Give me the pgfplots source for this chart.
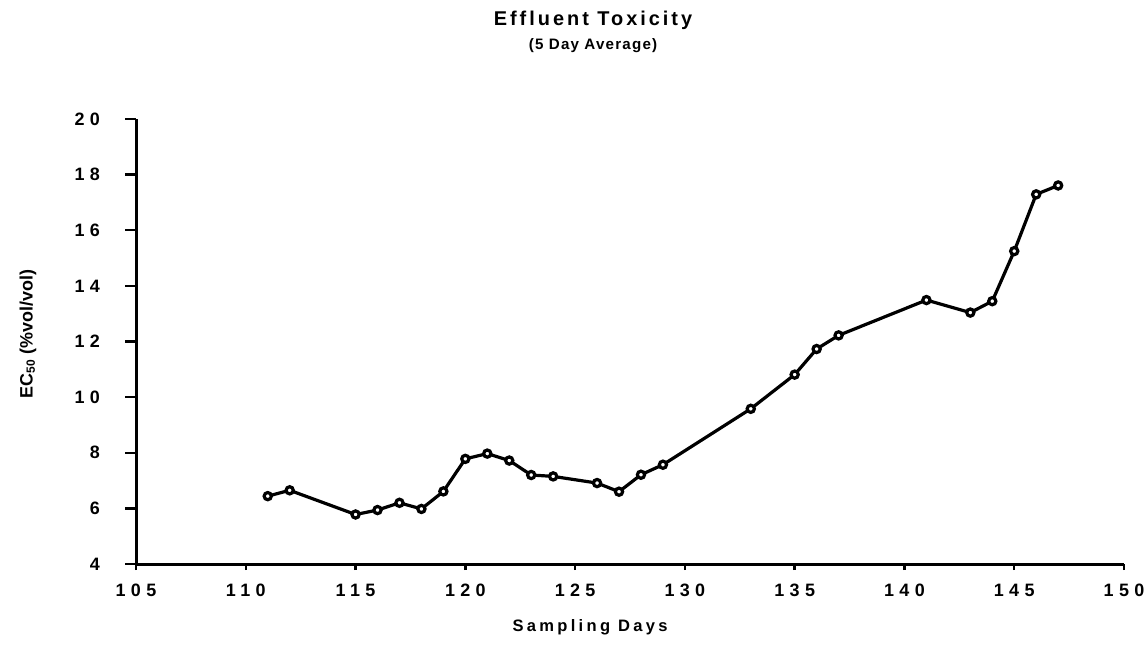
\documentclass[border=0pt]{standalone}
\usepackage{fontspec}
\setmainfont{Liberation Sans}
\newfontfamily\tickfont{Liberation Sans}[LetterSpace=30]
\newfontfamily\titlefont{Liberation Sans}[LetterSpace=15]
\newfontfamily\subfont{Liberation Sans}[LetterSpace=8]
\newfontfamily\labfont{Liberation Sans}[LetterSpace=20]
\usepackage{pgfplots}
\pgfplotsset{compat=1.18}
\begin{document}
\begin{tikzpicture}[x=1bp,y=1bp]
\path[use as bounding box] (0,0) rectangle (572.5,325);
\begin{axis}[
  at={(68bp,43bp)}, anchor=origin,
  scale only axis, width=494bp, height=222.5bp,
  xmin=105, xmax=150, ymin=4, ymax=20,
  xtick={105,110,...,150}, ytick={4,6,...,20},
  axis x line=bottom, axis y line=left,
  axis line style={-, line width=1.5bp},
  tick style={line width=1.2bp, black},
  major tick length=5.5bp,
  xtick style={/pgfplots/major tick length=3bp},
  tick align=outside,
  /pgf/number format/assume math mode=true,
  xticklabel style={font=\tickfont\bfseries\fontsize{9}{10}\selectfont, yshift=-1bp},
  yticklabel style={font=\tickfont\bfseries\fontsize{9}{10}\selectfont, xshift=-9bp},
  clip=false,
]
\addplot[black, line width=1.6bp, mark=*, mark size=1.8bp,
  mark options={fill=white, draw=black, line width=1.6bp}]
  coordinates {
  (111,6.44) (112,6.65) (115,5.78) (116,5.94) (117,6.20) (118,5.98)
  (119,6.61) (120,7.78) (121,7.97) (122,7.72) (123,7.20) (124,7.15)
  (126,6.91) (127,6.60) (128,7.21) (129,7.57) (133,9.58) (135,10.81)
  (136,11.73) (137,12.22) (141,13.49) (143,13.04) (144,13.45)
  (145,15.25) (146,17.29) (147,17.61)
  };
\end{axis}
\node[font=\titlefont\bfseries\fontsize{10}{12}\selectfont] at (296.5,315) {Effluent Toxicity};
\node[font=\subfont\bfseries\fontsize{7.6}{9}\selectfont] at (296.5,302) {(5 Day Average)};
\node[font=\labfont\bfseries\fontsize{8.3}{10}\selectfont] at (295,11.5) {Sampling Days};
\node[rotate=90, font=\bfseries\fontsize{9}{10}\selectfont] at (14,158) {EC\textsubscript{50} (\%vol/vol)};
\end{tikzpicture}
\end{document}
